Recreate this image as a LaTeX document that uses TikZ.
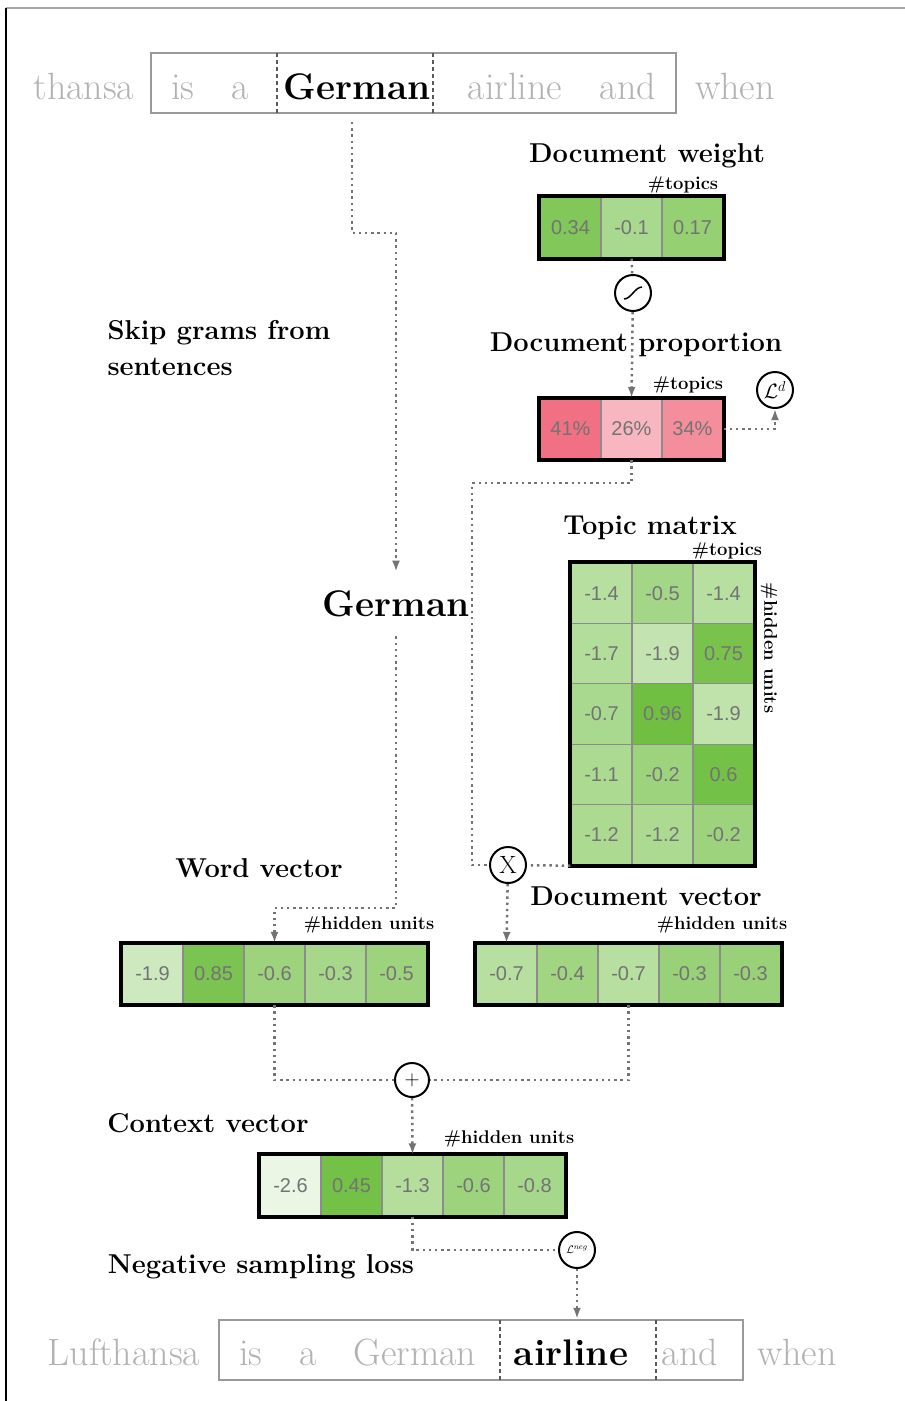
\documentclass[tikz,border=0pt]{standalone}
\usepackage{fontspec}
\newfontfamily\cellfont{Liberation Sans}
\usetikzlibrary{arrows.meta}
\definecolor{leaf}{HTML}{70BF42}
\definecolor{rose}{HTML}{F0687C}
\tikzset{
  cell/.style={draw=black!45, line width=1.3pt, minimum width=61pt, minimum height=61pt,
    inner sep=0pt, text=black!55, font=\cellfont\fontsize{20}{20}\selectfont},
  mcell/.style={cell, minimum height=60.4pt},
  vecbox/.style={draw=black, line width=3.8pt},
  flow/.style={draw=black!55, line width=2.5pt, dash pattern=on 2.4pt off 3.8pt},
  arr/.style={-{Latex[length=11pt,width=8pt]}},
  op/.style={circle, draw, line width=2pt, minimum size=36pt, inner sep=0pt, fill=white},
  lbl/.style={font=\fontsize{27.3}{36}\selectfont\bfseries},
  dimlbl/.style={font=\fontsize{18.4}{18}\selectfont\bfseries},
  word/.style={anchor=base, text=black!30, font=\fontsize{38}{38}\selectfont},
  focus/.style={anchor=base, text=black, font=\fontsize{37}{37}\selectfont\bfseries},
  sentbox/.style={draw=black!40, line width=2.5pt, inner sep=0pt},
  divider/.style={draw=black!65, line width=1.2pt, dash pattern=on 4pt off 3pt}
}
\begin{document}
\begin{tikzpicture}[x=1pt,y=-1pt]
\useasboundingbox (0,0) rectangle (905,1401);
% frame
\draw[black!35, line width=1.5pt] (6,8) -- (905,8);
\draw[black, line width=2pt] (6,8) -- (6,1401);

% input sentence
\node[sentbox, minimum width=525pt, minimum height=60pt] (sentT) at (413.5,83) {};
\draw[divider] (277,53) -- (277,113);
\draw[divider] (433,53) -- (433,113);
\node[word] (t1) at (84,99) {thansa};
\node[word] (t2) at (183,99) {is};
\node[word] (t3) at (240,99) {a};
\node[focus] (t4) at (357,99) {German};
\node[word] (t5) at (515,99) {airline};
\node[word] (t6) at (628,99) {and};
\node[word] (t7) at (735,99) {when};

\node[lbl, align=left, anchor=west] (skip) at (104,348) {Skip grams from\\sentences};
\node[font=\fontsize{37}{37}\selectfont\bfseries, inner xsep=2pt, inner ysep=19pt] (midG) at (396,604) {German};

% document weight
\node[lbl] (dwl) at (647,156) {Document weight};
\node[dimlbl] (dwd) at (683,185) {\#topics};
\node[cell, fill=leaf!88] (dw1) at (570.5,227.5) {0.34};
\node[cell, fill=leaf!60] (dw2) at (631.5,227.5) {-0.1};
\node[cell, fill=leaf!74] (dw3) at (692.5,227.5) {0.17};
\draw[vecbox] (dw1.north west) rectangle (dw3.south east);

\node[op, path picture={\draw[line width=1.5pt]
  ([xshift=-9pt,yshift=-6pt]path picture bounding box.center)
  .. controls +(7pt,0pt) and +(-7pt,0pt) ..
  ([xshift=9pt,yshift=6pt]path picture bounding box.center);}] (sig) at (633,293) {};

% document proportion
\node[lbl] (dpl) at (636,345) {Document proportion};
\node[dimlbl] (dpd) at (688,385) {\#topics};
\node[cell, fill=rose!95] (dp1) at (570.5,429) {41\%};
\node[cell, fill=rose!48] (dp2) at (631.5,429) {26\%};
\node[cell, fill=rose!75] (dp3) at (692.5,429) {34\%};
\draw[vecbox] (dp1.north west) rectangle (dp3.south east);
\node[op, font=\fontsize{22}{22}\selectfont] (Ld) at (775,390) {$\mathcal{L}^d$};

% topic matrix
\node[lbl] (tml) at (650,528) {Topic matrix};
\node[dimlbl] (tmd) at (727,551) {\#topics};
\node[dimlbl, rotate=-90] (tmh) at (769,648) {\#hidden units};
\node[mcell, fill=leaf!50] (m11) at (601.5,593.2) {-1.4};
\node[mcell, fill=leaf!64] (m12) at (662.5,593.2) {-0.5};
\node[mcell, fill=leaf!50] (m13) at (723.5,593.2) {-1.4};
\node[mcell, fill=leaf!53] (m21) at (601.5,653.6) {-1.7};
\node[mcell, fill=leaf!42] (m22) at (662.5,653.6) {-1.9};
\node[mcell, fill=leaf!94] (m23) at (723.5,653.6) {0.75};
\node[mcell, fill=leaf!60] (m31) at (601.5,714) {-0.7};
\node[mcell, fill=leaf!100] (m32) at (662.5,714) {0.96};
\node[mcell, fill=leaf!44] (m33) at (723.5,714) {-1.9};
\node[mcell, fill=leaf!58] (m41) at (601.5,774.4) {-1.1};
\node[mcell, fill=leaf!68] (m42) at (662.5,774.4) {-0.2};
\node[mcell, fill=leaf!97] (m43) at (723.5,774.4) {0.6};
\node[mcell, fill=leaf!58] (m51) at (601.5,834.8) {-1.2};
\node[mcell, fill=leaf!58] (m52) at (662.5,834.8) {-1.2};
\node[mcell, fill=leaf!68] (m53) at (723.5,834.8) {-0.2};
\draw[vecbox] (m11.north west) rectangle (m53.south east);

\node[op, font=\fontsize{25}{25}\selectfont] (X) at (508,865) {X};

% word vector
\node[lbl] (wvl) at (259,868) {Word vector};
\node[dimlbl] (wvd) at (369,925) {\#hidden units};
\node[cell, fill=leaf!34] (wv1) at (152.5,974) {-1.9};
\node[cell, fill=leaf!92] (wv2) at (213.5,974) {0.85};
\node[cell, fill=leaf!68] (wv3) at (274.5,974) {-0.6};
\node[cell, fill=leaf!62] (wv4) at (335.5,974) {-0.3};
\node[cell, fill=leaf!68] (wv5) at (396.5,974) {-0.5};
\draw[vecbox] (wv1.north west) rectangle (wv5.south east);

% document vector
\node[lbl] (dvl) at (646,896) {Document vector};
\node[dimlbl] (dvd) at (722,925) {\#hidden units};
\node[cell, fill=leaf!50] (dv1) at (506.5,974) {-0.7};
\node[cell, fill=leaf!66] (dv2) at (567.5,974) {-0.4};
\node[cell, fill=leaf!50] (dv3) at (628.5,974) {-0.7};
\node[cell, fill=leaf!72] (dv4) at (689.5,974) {-0.3};
\node[cell, fill=leaf!72] (dv5) at (750.5,974) {-0.3};
\draw[vecbox] (dv1.north west) rectangle (dv5.south east);

\node[op, minimum size=34pt, font=\fontsize{22}{22}\selectfont] (plus) at (412,1080) {$+$};

% context vector
\node[lbl] (cvl) at (208,1123) {Context vector};
\node[dimlbl] (cvd) at (509,1139) {\#hidden units};
\node[cell, fill=leaf!14] (cv1) at (290.5,1185.5) {-2.6};
\node[cell, fill=leaf!97] (cv2) at (351.5,1185.5) {0.45};
\node[cell, fill=leaf!52] (cv3) at (412.5,1185.5) {-1.3};
\node[cell, fill=leaf!68] (cv4) at (473.5,1185.5) {-0.6};
\node[cell, fill=leaf!62] (cv5) at (534.5,1185.5) {-0.8};
\draw[vecbox] (cv1.north west) rectangle (cv5.south east);

\node[op, font=\fontsize{11}{11}\selectfont] (Lneg) at (577,1250) {$\mathcal{L}^{neg}$};
\node[lbl] (nsl) at (261,1267) {Negative sampling loss};

% target sentence
\node[sentbox, minimum width=524pt, minimum height=60pt] (sentB) at (481,1350) {};
\draw[divider] (500,1320) -- (500,1380);
\draw[divider] (656,1320) -- (656,1380);
\node[word] (b1) at (124,1365) {Lufthansa};
\node[word] (b2) at (251,1365) {is};
\node[word] (b3) at (308,1365) {a};
\node[word] (b4) at (415,1365) {German};
\node[focus] (b5) at (571,1365) {airline};
\node[word] (b6) at (690,1365) {and};
\node[word] (b7) at (797,1365) {when};

% connectors
\coordinate (g0) at (352,122);
\coordinate (bend0) at (352,233);
\draw[flow, arr] (g0) -- (bend0) -| (midG.north);
\draw[flow] (dw2.south) -- (sig);
\draw[flow, arr] (sig) -- (dp2.north);
\draw[flow, arr] (dp3.east) -| (Ld.south);
\coordinate (bend1) at (472,865);
\draw[flow] (dp2.south) -- ++(0,23) -| (bend1) -- (X);
\draw[flow] (m51.south west) -- (X);
\draw[flow, arr] (X) -- (dv1.north);
\coordinate (bend2) at (396,908);
\draw[flow, arr] (midG.south) -- (bend2) -| (wv3.north);
\draw[flow] (wv3.south) |- (plus);
\draw[flow] (dv3.south) |- (plus);
\draw[flow, arr] (plus) -- (cv3.north);
\draw[flow] (cv3.south) |- (Lneg);
\draw[flow, arr] (Lneg) -- (Lneg |- sentB.north);
\end{tikzpicture}
\end{document}
